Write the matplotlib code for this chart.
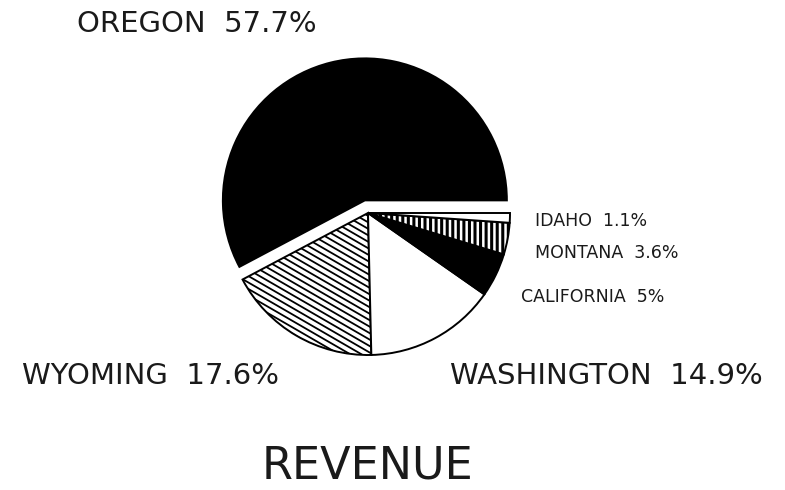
import matplotlib

matplotlib.use("Agg")
import matplotlib.pyplot as plt
import numpy as np
from matplotlib.collections import LineCollection

# slice data, counter-clockwise from 3 o'clock
STATES = ["OREGON", "WYOMING", "WASHINGTON", "CALIFORNIA", "MONTANA", "IDAHO"]
SHARES = [57.7, 17.6, 14.9, 5.0, 3.6, 1.1]
SHARE_TEXT = ["57.7%", "17.6%", "14.9%", "5%", "3.6%", "1.1%"]

FILLS = ["black", "white", "white", "black", "white", "white"]
HATCHES = [None, None, None, None, "|||", None]
EXPLODE_PX = [13, 0, 0, 0, 0, 0]   # pie() takes explode in data units

W, H = 785, 490
INK = "#1a1a1a"

# label spots in pixel coords (x left, y from top), size
LABELS = {
    "OREGON": (77, 24, 21),
    "WYOMING": (22, 376, 21),
    "WASHINGTON": (450, 376, 21),
    "IDAHO": (535, 221, 12.5),
    "MONTANA": (535, 253, 12.5),
    "CALIFORNIA": (521, 297, 12.5),
}


def slanted_hatch(ax, wedge, cx, cy, r, angle_deg=-30, gap=5.6):
    """Plotter-style hatch: parallel lines at a shallow angle, clipped to the wedge."""
    a = np.radians(angle_deg)
    u = np.array([np.cos(a), np.sin(a)])
    n = np.array([-np.sin(a), np.cos(a)])
    segs = []
    for t in np.arange(-r * 1.2, r * 1.2, gap):
        p = np.array([cx, cy]) + n * t
        segs.append([p - u * r * 1.3, p + u * r * 1.3])
    lc = LineCollection(segs, colors="black", linewidths=1.3, zorder=wedge.get_zorder() + 0.1)
    ax.add_collection(lc)
    lc.set_clip_path(wedge)


def main() -> None:
    plt.rcParams["hatch.linewidth"] = 2.2
    fig = plt.figure(figsize=(W / 100, H / 100), dpi=100)
    ax = fig.add_axes([0, 0, 1, 1])

    cx, cy, r = 368, H - 213, 142
    wedges, _ = ax.pie(SHARES, explode=EXPLODE_PX, startangle=0, counterclock=True,
                       center=(cx, cy), radius=r, colors=FILLS,
                       wedgeprops=dict(edgecolor="black", linewidth=1.4))
    for w, h in zip(wedges, HATCHES):
        if h:
            w.set_hatch(h)

    slanted_hatch(ax, wedges[STATES.index("WYOMING")], cx, cy, r)

    ax.set_xlim(0, W)
    ax.set_ylim(0, H)
    ax.set_aspect("equal")
    ax.axis("off")

    for name, share in zip(STATES, SHARE_TEXT):
        x, y, size = LABELS[name]
        ax.text(x, H - y, f"{name}  {share}", ha="left", va="center",
                fontsize=size, color=INK)

    ax.text(367, H - 466, "REVENUE", ha="center", va="center",
            fontsize=32, color=INK)

    fig.savefig("out.png", dpi=100, facecolor="white")


if __name__ == "__main__":
    main()
